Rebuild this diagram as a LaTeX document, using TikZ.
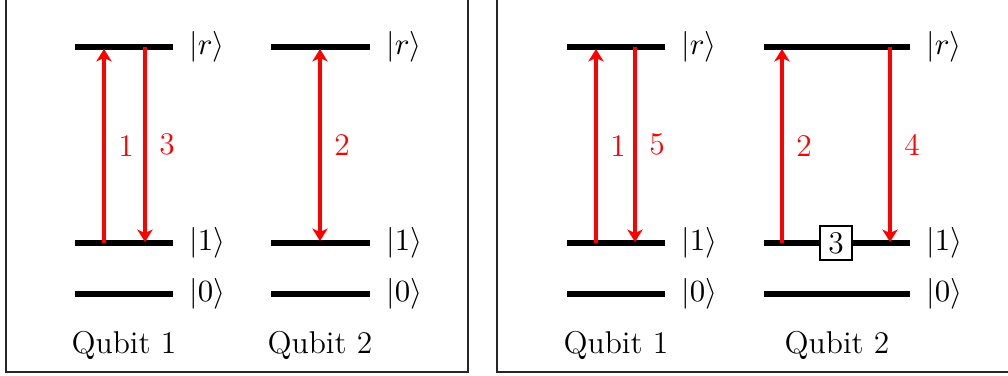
\documentclass[tikz,border=0pt]{standalone}
\usepackage{amsmath}
\usepackage{tikz}
\usetikzlibrary{arrows.meta,positioning}

\begin{document}
\begin{tikzpicture}[
  x=0.0125cm, y=-0.0125cm,
  font=\fontsize{11.2}{13}\selectfont,
  frame/.style={draw=black!85, line width=0.6pt},
  level/.style={line width=2.4pt},
  trans/.style={red, line width=1.3pt, -{Stealth[length=4.4pt, width=5.4pt, inset=1.2pt]}},
  both/.style={trans, {Stealth[length=4.4pt, width=5.4pt, inset=1.2pt]}-{Stealth[length=4.4pt, width=5.4pt, inset=1.2pt]}},
  ket/.style={anchor=west, inner sep=1pt},
  num/.style={red, anchor=west, inner sep=1pt},
  pulse/.style={draw, fill=white, line width=0.5pt, minimum width=0.4cm, minimum height=0.42cm, inner sep=0pt}
]
\useasboundingbox (0,0) rectangle (1008,376);
\clip (0,0) rectangle (1008,376);

% frames
\draw[frame] (6,-10) rectangle (468,372);
\draw[frame] (497,-10) rectangle (1020,372);

% ---- left panel ----
\draw[level] (75,47) -- (173,47);
\draw[level] (75,243) -- (173,243);
\draw[level] (75,294) -- (173,294);
\node[ket] (ar1) at (186,47) {$|r\rangle$};
\node[ket] (ao1) at (186,243) {$|1\rangle$};
\node[ket] (az1) at (186,294) {$|0\rangle$};

\draw[level] (271,47) -- (370,47);
\draw[level] (271,243) -- (370,243);
\draw[level] (271,294) -- (370,294);
\node[ket] (ar2) at (383,47) {$|r\rangle$};
\node[ket] (ao2) at (383,243) {$|1\rangle$};
\node[ket] (az2) at (383,294) {$|0\rangle$};

\coordinate (a1lo) at (104,243);
\coordinate (a1hi) at (104,49);
\coordinate (a3hi) at (145,47);
\coordinate (a3lo) at (145,242);
\coordinate (a2hi) at (320,49);
\coordinate (a2lo) at (320,241);

\draw[trans] (a1lo) -- node[num, right=3.5pt] {1} (a1hi);
\draw[trans] (a3hi) -- node[num, right=3.5pt] {3} (a3lo);
\draw[both] (a2lo) -- node[num, right=3.5pt] {2} (a2hi);

\node (aq1) at (124,345) {Qubit 1};
\node (aq2) at (320,345) {Qubit 2};

% ---- right panel ----
\draw[level] (567,47) -- (665,47);
\draw[level] (567,243) -- (665,243);
\draw[level] (567,294) -- (665,294);
\node[ket] (br1) at (678,47) {$|r\rangle$};
\node[ket] (bo1) at (678,243) {$|1\rangle$};
\node[ket] (bz1) at (678,294) {$|0\rangle$};

\draw[level] (764,47) -- (910,47);
\draw[level] (764,243) -- (910,243);
\draw[level] (764,294) -- (910,294);
\node[ket] (br2) at (923,47) {$|r\rangle$};
\node[ket] (bo2) at (923,243) {$|1\rangle$};
\node[ket] (bz2) at (923,294) {$|0\rangle$};

\coordinate (b1lo) at (596,243);
\coordinate (b1hi) at (596,49);
\coordinate (b5hi) at (635,47);
\coordinate (b5lo) at (635,242);
\coordinate (b2lo) at (782,243);
\coordinate (b2hi) at (782,49);
\coordinate (b4hi) at (890,47);
\coordinate (b4lo) at (890,242);

\draw[trans] (b1lo) -- node[num, right=3.5pt] {1} (b1hi);
\draw[trans] (b5hi) -- node[num, right=3.5pt] {5} (b5lo);
\draw[trans] (b2lo) -- node[num, right=3.5pt] {2} (b2hi);
\draw[trans] (b4hi) -- node[num, right=3.5pt] {4} (b4lo);

\node[pulse] (b3) at (836,243) {3};

\node (bq1) at (616,345) {Qubit 1};
\node (bq2) at (837,345) {Qubit 2};
\end{tikzpicture}
\end{document}
